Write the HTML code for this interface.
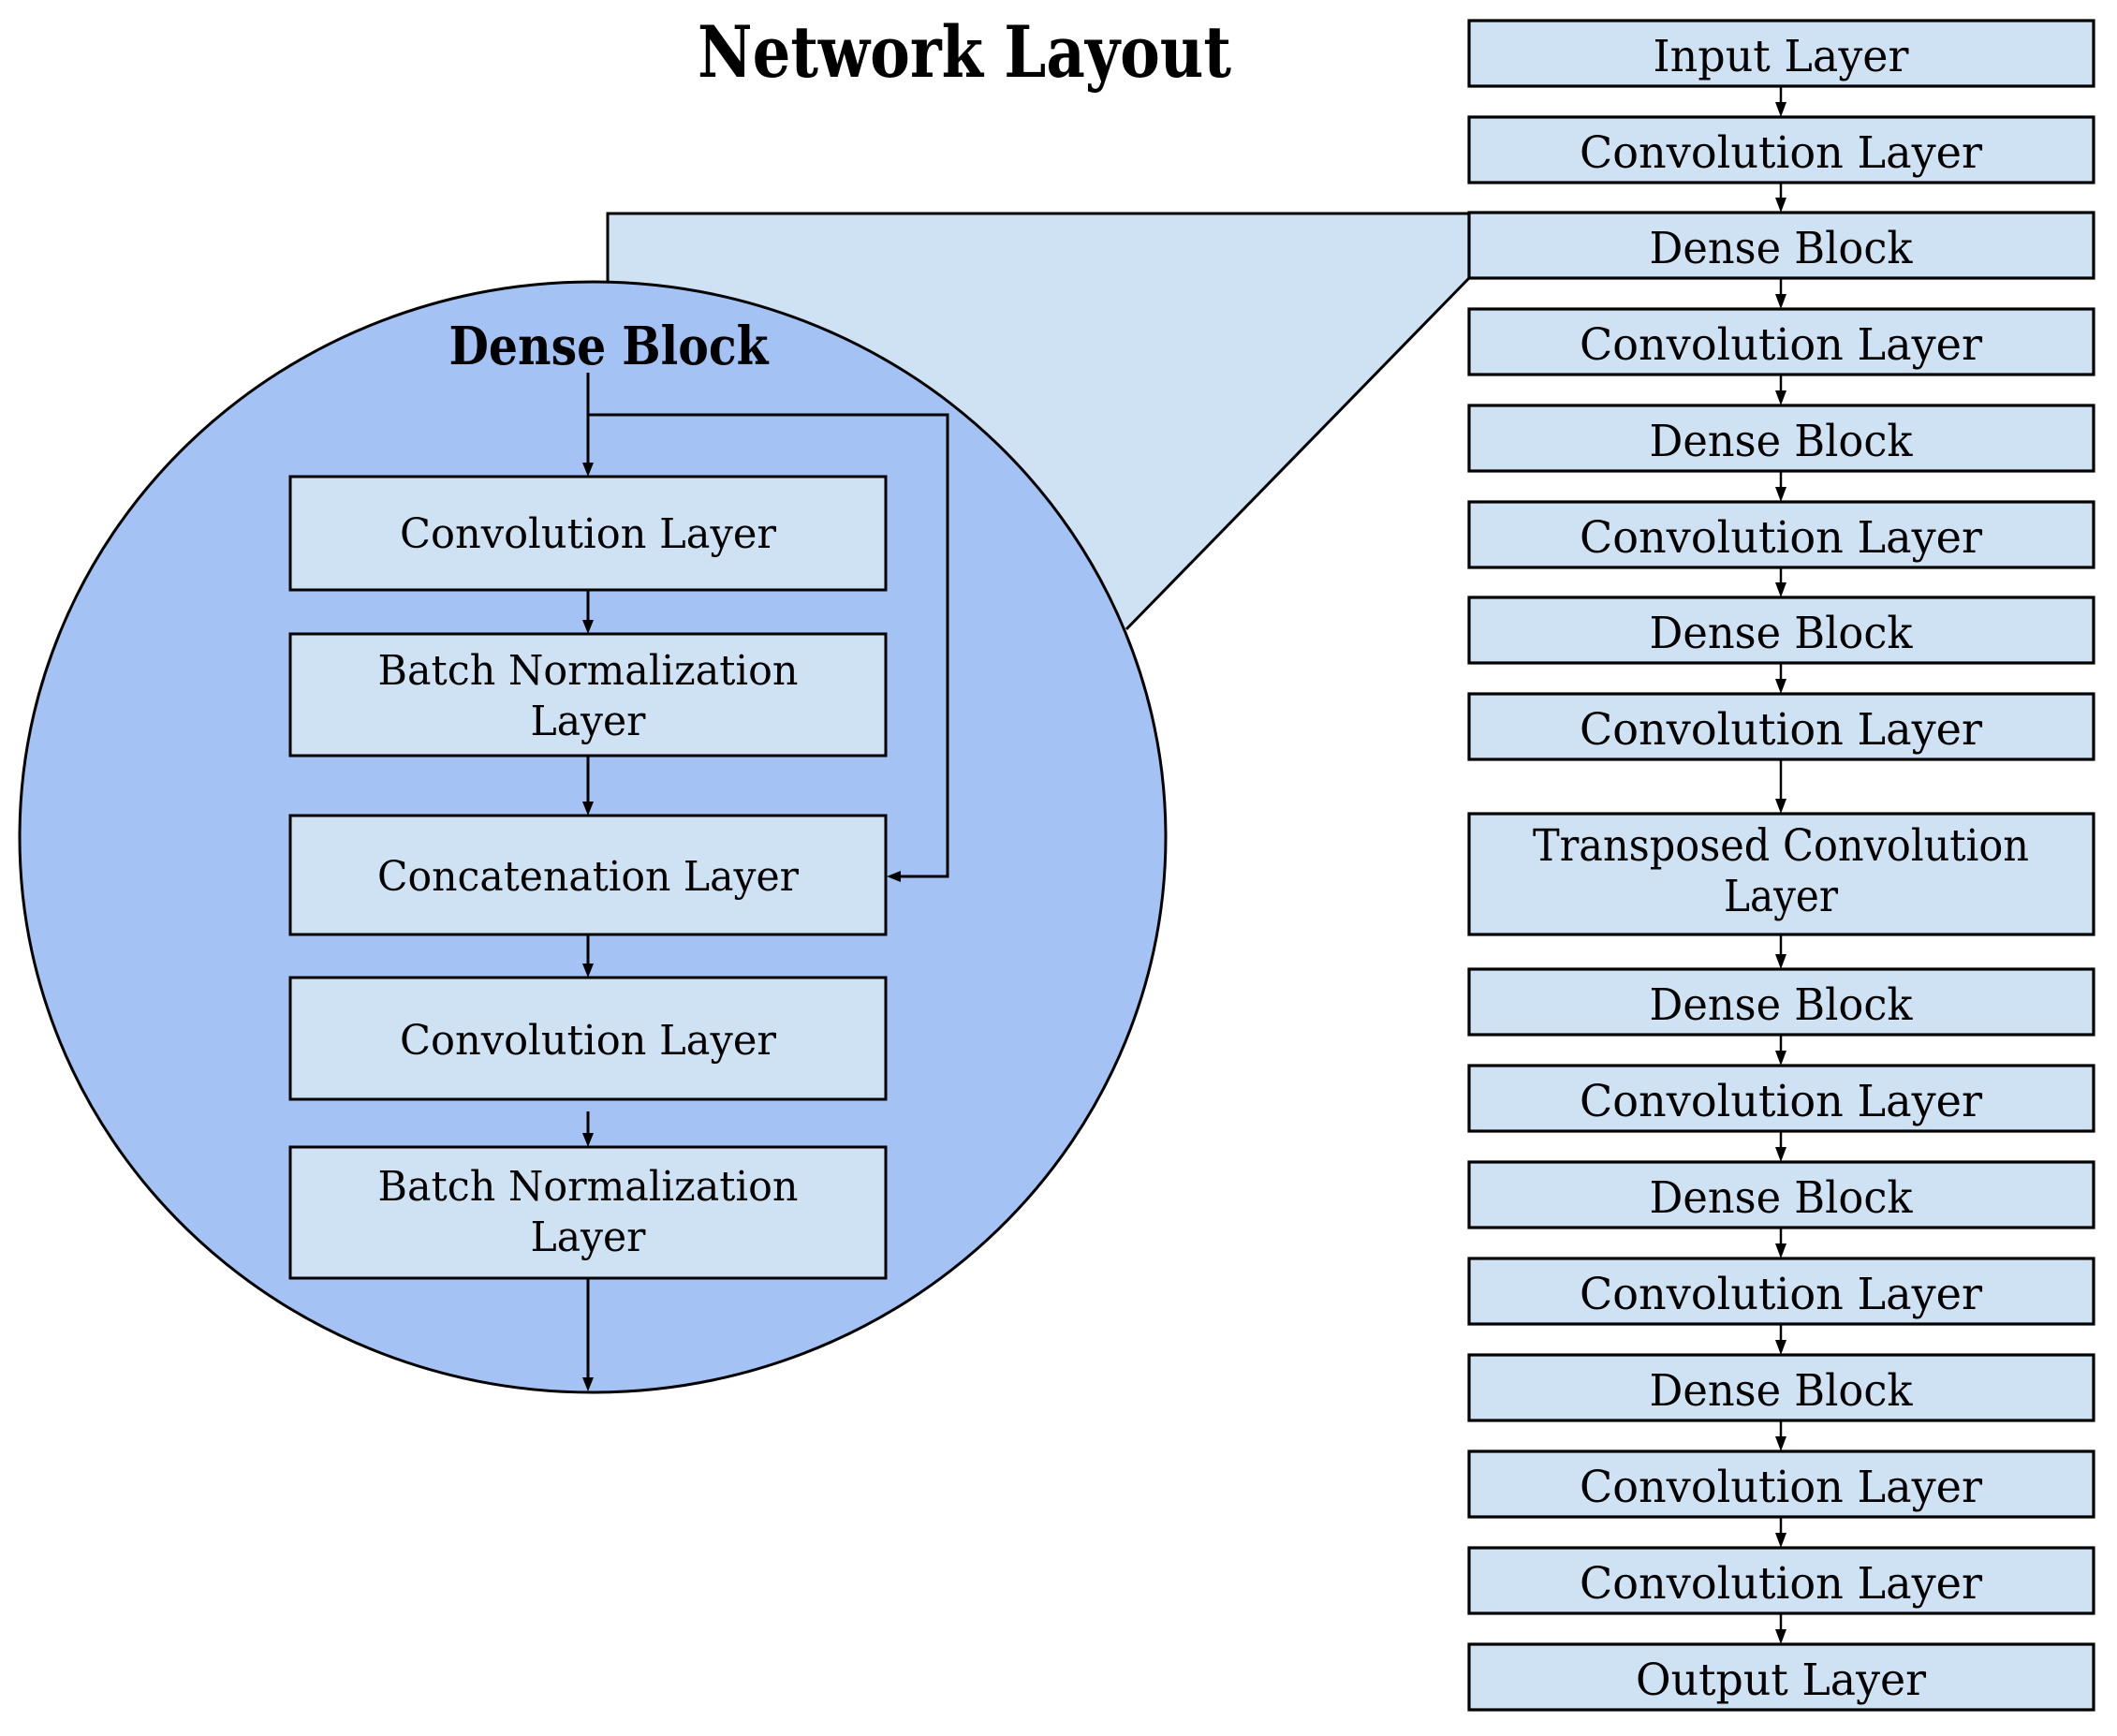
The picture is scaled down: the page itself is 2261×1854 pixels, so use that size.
<!DOCTYPE html>
<html><head><meta charset="utf-8"><style>html,body{margin:0;padding:0;background:#fff}svg{display:block}</style></head>
<body>
<svg width="2261" height="1854" viewBox="0 0 2261 1854" xmlns="http://www.w3.org/2000/svg" font-family="DejaVu Serif, Liberation Serif, serif">
<polygon points="649,228 1569,228 1569,297 1202,672 632,893 649,330" fill="#cfe2f3"/>
<ellipse cx="633" cy="894" rx="612" ry="593" fill="#a4c2f4" stroke="#000" stroke-width="3"/>
<polyline points="649,301 649,228 1569,228" fill="none" stroke="#000" stroke-width="3"/>
<line x1="1569" y1="297" x2="1203" y2="672" stroke="#000" stroke-width="3"/>

<text x="1030" y="82" font-size="76" font-weight="bold" text-anchor="middle" textLength="570" lengthAdjust="spacingAndGlyphs">Network Layout</text>
<text x="650" y="389" font-size="56" font-weight="bold" text-anchor="middle" textLength="341" lengthAdjust="spacingAndGlyphs">Dense Block</text>

<g stroke="#000" stroke-width="3" fill="none">
<line x1="628" y1="398" x2="628" y2="495"/>
<polyline points="628,443 1012,443 1012,936 962,936"/>
<line x1="628" y1="630" x2="628" y2="663"/>
<line x1="628" y1="807" x2="628" y2="857"/>
<line x1="628" y1="998" x2="628" y2="1030"/>
<line x1="628" y1="1187" x2="628" y2="1211"/>
<line x1="628" y1="1366" x2="628" y2="1472"/>
</g>
<g fill="#000">
<polygon points="622,494 634,494 628,509"/>
<polygon points="622,662 634,662 628,677"/>
<polygon points="622,856 634,856 628,871"/>
<polygon points="622,1029 634,1029 628,1044"/>
<polygon points="622,1210 634,1210 628,1225"/>
<polygon points="622,1471 634,1471 628,1486"/>
<polygon points="962,930 962,942 947,936"/>
</g>

<g fill="#cfe2f3" stroke="#000" stroke-width="3">
<rect x="310" y="509" width="636" height="121"/>
<rect x="310" y="677" width="636" height="130"/>
<rect x="310" y="871" width="636" height="127"/>
<rect x="310" y="1044" width="636" height="130"/>
<rect x="310" y="1225" width="636" height="140"/>
</g>
<g font-size="44" text-anchor="middle">
<text x="628" y="585" textLength="402" lengthAdjust="spacingAndGlyphs">Convolution Layer</text>
<text x="628" y="731" textLength="449" lengthAdjust="spacingAndGlyphs">Batch Normalization</text>
<text x="628" y="785" textLength="123" lengthAdjust="spacingAndGlyphs">Layer</text>
<text x="628" y="951" textLength="450" lengthAdjust="spacingAndGlyphs">Concatenation Layer</text>
<text x="628" y="1126" textLength="402" lengthAdjust="spacingAndGlyphs">Convolution Layer</text>
<text x="628" y="1282" textLength="449" lengthAdjust="spacingAndGlyphs">Batch Normalization</text>
<text x="628" y="1336" textLength="123" lengthAdjust="spacingAndGlyphs">Layer</text>
</g>

<g stroke="#000" stroke-width="2.5">
<line x1="1902" y1="92" x2="1902" y2="115"/>
<line x1="1902" y1="195" x2="1902" y2="217"/>
<line x1="1902" y1="297" x2="1902" y2="320"/>
<line x1="1902" y1="400" x2="1902" y2="423"/>
<line x1="1902" y1="503" x2="1902" y2="526"/>
<line x1="1902" y1="606" x2="1902" y2="628"/>
<line x1="1902" y1="708" x2="1902" y2="731"/>
<line x1="1902" y1="811" x2="1902" y2="859"/>
<line x1="1902" y1="998" x2="1902" y2="1025"/>
<line x1="1902" y1="1105" x2="1902" y2="1128"/>
<line x1="1902" y1="1208" x2="1902" y2="1231"/>
<line x1="1902" y1="1311" x2="1902" y2="1334"/>
<line x1="1902" y1="1414" x2="1902" y2="1437"/>
<line x1="1902" y1="1517" x2="1902" y2="1540"/>
<line x1="1902" y1="1620" x2="1902" y2="1643"/>
<line x1="1902" y1="1723" x2="1902" y2="1746"/>
</g>
<g fill="#000">
<polygon points="1896,109 1908,109 1902,125"/>
<polygon points="1896,211 1908,211 1902,227"/>
<polygon points="1896,314 1908,314 1902,330"/>
<polygon points="1896,417 1908,417 1902,433"/>
<polygon points="1896,520 1908,520 1902,536"/>
<polygon points="1896,622 1908,622 1902,638"/>
<polygon points="1896,725 1908,725 1902,741"/>
<polygon points="1896,853 1908,853 1902,869"/>
<polygon points="1896,1019 1908,1019 1902,1035"/>
<polygon points="1896,1122 1908,1122 1902,1138"/>
<polygon points="1896,1225 1908,1225 1902,1241"/>
<polygon points="1896,1328 1908,1328 1902,1344"/>
<polygon points="1896,1431 1908,1431 1902,1447"/>
<polygon points="1896,1534 1908,1534 1902,1550"/>
<polygon points="1896,1637 1908,1637 1902,1653"/>
<polygon points="1896,1740 1908,1740 1902,1756"/>
</g>

<g fill="#cfe2f3" stroke="#000" stroke-width="3.2">
<rect x="1569" y="22" width="667" height="70"/>
<rect x="1569" y="125" width="667" height="70"/>
<rect x="1569" y="227" width="667" height="70"/>
<rect x="1569" y="330" width="667" height="70"/>
<rect x="1569" y="433" width="667" height="70"/>
<rect x="1569" y="536" width="667" height="70"/>
<rect x="1569" y="638" width="667" height="70"/>
<rect x="1569" y="741" width="667" height="70"/>
<rect x="1569" y="869" width="667" height="129"/>
<rect x="1569" y="1035" width="667" height="70"/>
<rect x="1569" y="1138" width="667" height="70"/>
<rect x="1569" y="1241" width="667" height="70"/>
<rect x="1569" y="1344" width="667" height="70"/>
<rect x="1569" y="1447" width="667" height="70"/>
<rect x="1569" y="1550" width="667" height="70"/>
<rect x="1569" y="1653" width="667" height="70"/>
<rect x="1569" y="1756" width="667" height="70"/>
</g>
<g font-size="47" text-anchor="middle">
<text x="1902" y="76" textLength="273" lengthAdjust="spacingAndGlyphs">Input Layer</text>
<text x="1902" y="179" textLength="430" lengthAdjust="spacingAndGlyphs">Convolution Layer</text>
<text x="1902" y="281" textLength="281" lengthAdjust="spacingAndGlyphs">Dense Block</text>
<text x="1902" y="384" textLength="430" lengthAdjust="spacingAndGlyphs">Convolution Layer</text>
<text x="1902" y="487" textLength="281" lengthAdjust="spacingAndGlyphs">Dense Block</text>
<text x="1902" y="590" textLength="430" lengthAdjust="spacingAndGlyphs">Convolution Layer</text>
<text x="1902" y="692" textLength="281" lengthAdjust="spacingAndGlyphs">Dense Block</text>
<text x="1902" y="795" textLength="430" lengthAdjust="spacingAndGlyphs">Convolution Layer</text>
<text x="1902" y="919" textLength="530" lengthAdjust="spacingAndGlyphs">Transposed Convolution</text>
<text x="1902" y="973" textLength="122" lengthAdjust="spacingAndGlyphs">Layer</text>
<text x="1902" y="1089" textLength="281" lengthAdjust="spacingAndGlyphs">Dense Block</text>
<text x="1902" y="1192" textLength="430" lengthAdjust="spacingAndGlyphs">Convolution Layer</text>
<text x="1902" y="1295" textLength="281" lengthAdjust="spacingAndGlyphs">Dense Block</text>
<text x="1902" y="1398" textLength="430" lengthAdjust="spacingAndGlyphs">Convolution Layer</text>
<text x="1902" y="1501" textLength="281" lengthAdjust="spacingAndGlyphs">Dense Block</text>
<text x="1902" y="1604" textLength="430" lengthAdjust="spacingAndGlyphs">Convolution Layer</text>
<text x="1902" y="1707" textLength="430" lengthAdjust="spacingAndGlyphs">Convolution Layer</text>
<text x="1902" y="1810" textLength="310" lengthAdjust="spacingAndGlyphs">Output Layer</text>
</g>
</svg>
</body></html>
